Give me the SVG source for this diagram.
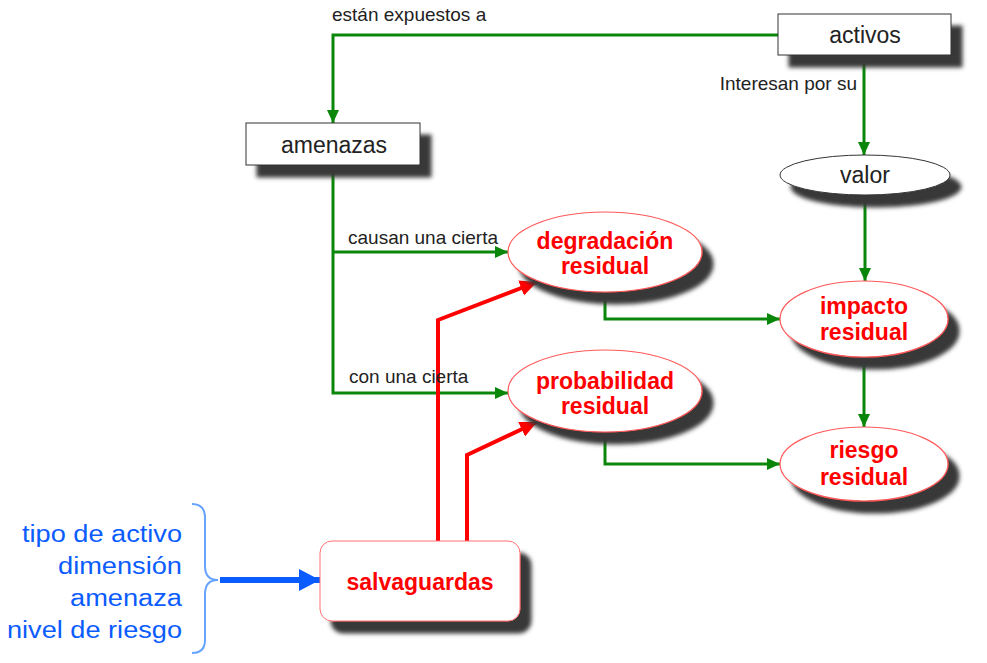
<svg xmlns="http://www.w3.org/2000/svg" width="987" height="663" viewBox="0 0 987 663">
  <defs>
    <filter id="shadow" x="-20%" y="-30%" width="150%" height="180%">
      <feDropShadow dx="11" dy="12" stdDeviation="2.2" flood-color="#383838" flood-opacity="1"/>
    </filter>
    <marker id="ag" markerUnits="userSpaceOnUse" markerWidth="14" markerHeight="14" refX="13" refY="7" orient="auto">
      <path d="M0,1 L13,7 L0,13 z" fill="#0a870a"/>
    </marker>
    <marker id="ar" markerUnits="userSpaceOnUse" markerWidth="18" markerHeight="18" refX="17" refY="9" orient="auto">
      <path d="M0,1 L17,9 L0,17 z" fill="#ff0000"/>
    </marker>
    <marker id="ab" markerUnits="userSpaceOnUse" markerWidth="22" markerHeight="24" refX="21" refY="12" orient="auto">
      <path d="M0,1 L21,12 L0,23 z" fill="#0a5cff"/>
    </marker>
  </defs>
  <style>
    .box { fill: #fff; stroke: #333; stroke-width: 1; filter: url(#shadow); }
    .ell { fill: #fff; stroke: #ff5a5a; stroke-width: 1.2; filter: url(#shadow); }
    .ellk { fill: #fff; stroke: #333; stroke-width: 1; filter: url(#shadow); }
    .t { font-family: "Liberation Sans", Arial, sans-serif; fill: #222; }
    .big { font-size: 23px; text-anchor: middle; }
    .lbl { font-size: 19px; }
    .red { font-family: "Liberation Sans", Arial, sans-serif; font-weight: bold; font-size: 23px; fill: #ff0000; text-anchor: middle; }
    .blue { font-family: "Liberation Sans", Arial, sans-serif; font-size: 23.5px; fill: #0a5cff; text-anchor: end; }
    .g { fill: none; stroke: #0a870a; stroke-width: 3; marker-end: url(#ag); }
    .r { fill: none; stroke: #ff0000; stroke-width: 4; marker-end: url(#ar); }
  </style>

  <g id="connectors">
    <path class="g" d="M778,35 L333,35 L333,123"/>
    <path class="g" d="M864,55 L864,155"/>
    <path class="g" d="M865,195 L865,281"/>
    <path class="g" d="M864,357 L864,427"/>
    <path class="g" d="M333,165 L333,393 L508,393"/>
    <path class="g" d="M333,252 L508,252"/>
    <path class="g" d="M605,292 L605,319 L780,319"/>
    <path class="g" d="M605,432 L605,464 L780,464"/>
    <path class="r" d="M438,541 L438,320 L537,282"/>
    <path class="r" d="M467,541 L467,455 L537,422"/>
    <path fill="none" stroke="#0a5cff" stroke-width="6" marker-end="url(#ab)" d="M220,580 L320,580"/>
    <path fill="none" stroke="#66a3ff" stroke-width="2" d="M192,504 Q205,504 205,518 L205,566 Q205,580 218,580 Q205,580 205,594 L205,640 Q205,653 192,653"/>
  </g>
  <g id="labels">
    <text class="t lbl" x="332" y="21">están expuestos a</text>
    <text class="t lbl" x="857" y="90" text-anchor="end">Interesan por su</text>
    <text class="t lbl" x="348" y="244">causan una cierta</text>
    <text class="t lbl" x="349" y="383">con una cierta</text>
  </g>

  <g id="activos">
    <rect class="box" x="778" y="14" width="173" height="41"/>
    <text class="t big" x="865" y="43">activos</text>
  </g>
  <g id="amenazas">
    <rect class="box" x="246" y="123" width="174" height="42"/>
    <text class="t big" x="334" y="153">amenazas</text>
  </g>
  <g id="valor">
    <ellipse class="ellk" cx="865" cy="175" rx="85" ry="20"/>
    <text class="t big" x="865" y="183">valor</text>
  </g>
  <g id="degradacion">
    <ellipse class="ell" cx="605" cy="252" rx="97" ry="40"/>
    <text class="red" x="605" y="249">degradación</text>
    <text class="red" x="605" y="274">residual</text>
  </g>
  <g id="probabilidad">
    <ellipse class="ell" cx="605" cy="391" rx="97" ry="41"/>
    <text class="red" x="605" y="389">probabilidad</text>
    <text class="red" x="605" y="414">residual</text>
  </g>
  <g id="impacto">
    <ellipse class="ell" cx="864" cy="319" rx="84" ry="38"/>
    <text class="red" x="864" y="314">impacto</text>
    <text class="red" x="864" y="340">residual</text>
  </g>
  <g id="riesgo">
    <ellipse class="ell" cx="864" cy="464" rx="84" ry="37"/>
    <text class="red" x="864" y="458">riesgo</text>
    <text class="red" x="864" y="485">residual</text>
  </g>
  <g id="salvaguardas">
    <rect class="box" x="320" y="541" width="200" height="80" rx="12" style="stroke:#ff7070"/>
    <text class="red" x="420" y="590">salvaguardas</text>
  </g>
  <g id="inputs">
    <text class="blue" x="182" y="542" textLength="160" lengthAdjust="spacingAndGlyphs">tipo de activo</text>
    <text class="blue" x="182" y="574" textLength="124" lengthAdjust="spacingAndGlyphs">dimensión</text>
    <text class="blue" x="182" y="606" textLength="112" lengthAdjust="spacingAndGlyphs">amenaza</text>
    <text class="blue" x="182" y="638" textLength="175" lengthAdjust="spacingAndGlyphs">nivel de riesgo</text>
  </g>
</svg>
